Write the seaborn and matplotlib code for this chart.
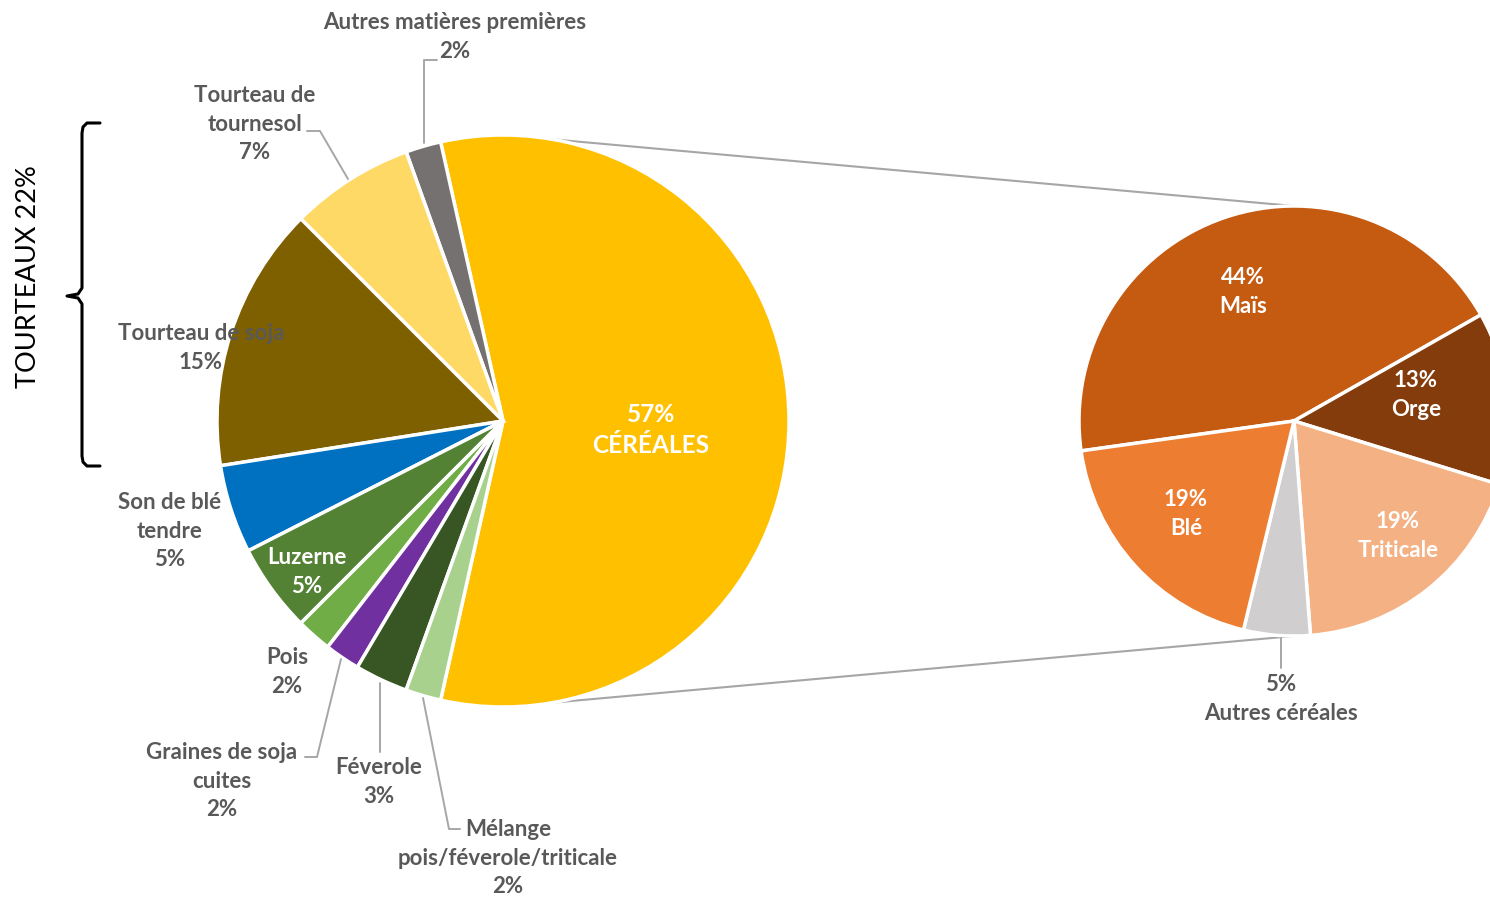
import matplotlib
matplotlib.use("Agg")
import numpy as np
import matplotlib.pyplot as plt
import seaborn as sns

# Data
main_names = ["CÉRÉALES", "Autres matières premières", "Tourteau de\ntournesol",
              "Tourteau de soja", "Son de blé\ntendre", "Luzerne", "Pois",
              "Graines de soja\ncuites", "Féverole", "Mélange\npois/féverole/triticale"]
main_values = [57, 2, 7, 15, 5, 5, 2, 2, 3, 2]
main_colors = ["#FFC000", "#767171", "#FFD966", "#7F6000", "#0070C0",
               "#548235", "#70AD47", "#7030A0", "#375623", "#A9D18E"]

sub_names = ["Maïs", "Orge", "Triticale", "Autres céréales", "Blé"]
sub_values = [44, 13, 19, 5, 19]
sub_colors = ["#C55A11", "#843C0C", "#F4B183", "#D0CECE", "#ED7D31"]

bracket_label = "TOURTEAUX 22%"

# Layout (pixel coords, y from top)
W, H = 1490, 897
main_c, main_r = (503, 421), 286
sub_c, sub_r = (1294, 421), 215

main_label_pos = [(651, 430), (455, 37), (255, 124), (201, 348), (170, 531),
                  (307, 572), (287, 672), (222, 781), (379, 782), (508, 858)]
main_label_white = [True, False, False, False, False, True, False, False, False, False]
sub_label_pos = [(1243, 292), (1416, 395), (1398, 536), (1281, 699), (1186, 514)]
sub_label_white = [True, True, True, False, True]

leaders = [
    [(424, 143), (424, 60), (437, 60)],
    [(348, 179), (320, 131), (307, 131)],
    [(341, 659), (317, 757), (305, 757)],
    [(380, 683), (380, 752)],
    [(423, 698), (449, 829), (460, 829)],
    [(1281, 638), (1281, 668)],
]

sns.set_theme(style="white")
plt.rcParams["font.family"] = ["Lato", "DejaVu Sans"]

label_gray = "#595959"
line_gray = "#A6A6A6"


def fy(y):
    return H - y


fig = plt.figure(figsize=(W / 100, H / 100), dpi=100)
ax = fig.add_axes([0, 0, 1, 1])

# main pie
ax.pie(main_values, colors=main_colors, startangle=-main_values[0] * 3.6 / 2,
       counterclock=True, center=(main_c[0], fy(main_c[1])), radius=main_r,
       wedgeprops=dict(edgecolor="white", linewidth=2.5), frame=True)

# secondary pie
ax.pie(sub_values, colors=sub_colors, startangle=188, counterclock=False,
       center=(sub_c[0], fy(sub_c[1])), radius=sub_r,
       wedgeprops=dict(edgecolor="white", linewidth=2.5), frame=True)
ax.set_xlim(0, W)
ax.set_ylim(0, H)
ax.set_aspect("equal")
ax.axis("off")

# connector lines
a = np.deg2rad(80)
for s in (1, -1):
    x0 = main_c[0] + main_r * np.cos(a)
    y0 = fy(main_c[1]) + s * main_r * np.sin(a)
    x1 = sub_c[0]
    y1 = fy(sub_c[1]) + s * sub_r
    ax.plot([x0, x1], [y0, y1], color=line_gray, lw=1.5, zorder=0)

# leader lines
for pts in leaders:
    xs = [p[0] for p in pts]
    ys = [fy(p[1]) for p in pts]
    ax.plot(xs, ys, color=line_gray, lw=1.4, zorder=1)

# labels
for i, (name, v) in enumerate(zip(main_names, main_values)):
    x, y = main_label_pos[i]
    if i == 0:
        txt, size, ls = f"{v}%\n{name}", 17.6, 1.45
    else:
        txt, size, ls = f"{name}\n{v}%", 16, 1.42
    ax.text(x, fy(y), txt, ha="center", va="center", fontsize=size,
            fontweight="bold", linespacing=ls,
            color="white" if main_label_white[i] else label_gray, zorder=5)

for i, (name, v) in enumerate(zip(sub_names, sub_values)):
    x, y = sub_label_pos[i]
    ax.text(x, fy(y), f"{v}%\n{name}", ha="center", va="center", fontsize=16,
            fontweight="bold", linespacing=1.42,
            color="white" if sub_label_white[i] else label_gray, zorder=5)

# bracket for tourteaux
top, mid, bot = 123, 296, 466
bx = 82
bracket = [(100, top), (87, top), (83, top + 4), (bx, top + 10), (bx, mid - 8),
           (78, mid - 2), (67, mid), (78, mid + 2), (bx, mid + 8), (bx, bot - 10),
           (83, bot - 4), (87, bot), (100, bot)]
ax.plot([p[0] for p in bracket], [fy(p[1]) for p in bracket], color="black", lw=2.2,
        solid_joinstyle="round")
ax.text(29, fy(277), bracket_label, rotation=90, ha="center", va="center",
        fontsize=19.5, color="black")

fig.savefig("out.png", dpi=100)
